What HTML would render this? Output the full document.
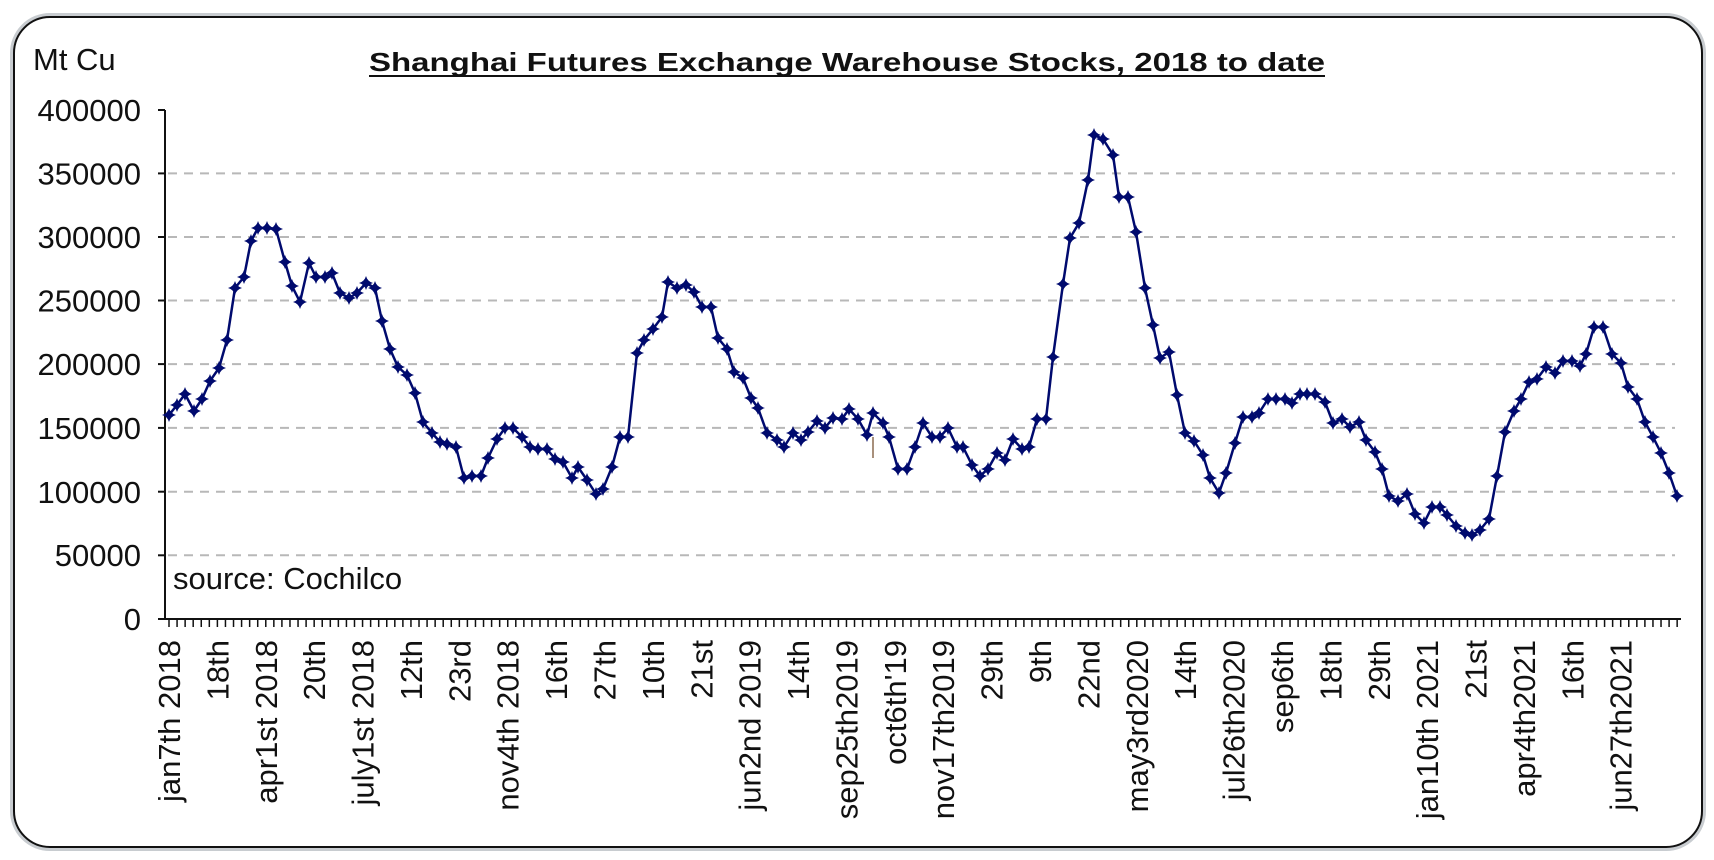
<!DOCTYPE html>
<html><head><meta charset="utf-8"><style>
html,body{margin:0;padding:0;background:#fff;}
svg{display:block;font-family:"Liberation Sans",Arial,sans-serif;}
</style></head><body>
<svg width="1714" height="860" viewBox="0 0 1714 860" xmlns="http://www.w3.org/2000/svg">
<defs>
<marker id="m" viewBox="-8 -8 16 16" markerWidth="16" markerHeight="16" markerUnits="userSpaceOnUse" refX="0" refY="0">
<path d="M0,-7 Q1.5,-1.5 7,0 Q1.5,1.5 0,7 Q-1.5,1.5 -7,0 Q-1.5,-1.5 0,-7Z" fill="#000a6e"/>
</marker>
</defs>
<rect x="12" y="15" width="1692" height="834" rx="38" fill="none" stroke="#c8ccd0" stroke-width="4"/>
<rect x="14" y="17" width="1688" height="830" rx="36" fill="#fff" stroke="#111" stroke-width="2"/>
<text x="33" y="70" font-size="31" fill="#111">Mt Cu</text>
<text x="847" y="71" font-size="26" font-weight="bold" text-anchor="middle" fill="#111" textLength="956" lengthAdjust="spacingAndGlyphs">Shanghai Futures Exchange Warehouse Stocks, 2018 to date</text>
<line x1="369" y1="76" x2="1325" y2="76" stroke="#111" stroke-width="2"/>
<g stroke="#b8b8b8" stroke-width="2" stroke-dasharray="9 7">
<line x1="168" y1="173.4" x2="1675" y2="173.4"/>
<line x1="168" y1="237" x2="1675" y2="237"/>
<line x1="168" y1="300.5" x2="1675" y2="300.5"/>
<line x1="168" y1="364.1" x2="1675" y2="364.1"/>
<line x1="168" y1="427.9" x2="1675" y2="427.9"/>
<line x1="168" y1="491.7" x2="1675" y2="491.7"/>
<line x1="168" y1="555.3" x2="1675" y2="555.3"/>
</g>
<g stroke="#111" stroke-width="2">
<line x1="165" y1="110" x2="165" y2="620"/>
<line x1="158" y1="110" x2="165" y2="110"/>
<line x1="158" y1="173.4" x2="165" y2="173.4"/>
<line x1="158" y1="237" x2="165" y2="237"/>
<line x1="158" y1="300.5" x2="165" y2="300.5"/>
<line x1="158" y1="364.1" x2="165" y2="364.1"/>
<line x1="158" y1="427.9" x2="165" y2="427.9"/>
<line x1="158" y1="491.7" x2="165" y2="491.7"/>
<line x1="158" y1="555.3" x2="165" y2="555.3"/>
<line x1="158" y1="619" x2="1681" y2="619"/>
</g>
<line x1="168.25" y1="623" x2="1681" y2="623" stroke="#111" stroke-width="8" stroke-dasharray="1.5 6.565"/>
<g font-size="31" fill="#111" text-anchor="end">
<text x="141" y="121">400000</text>
<text x="141" y="184.5">350000</text>
<text x="141" y="248">300000</text>
<text x="141" y="311.5">250000</text>
<text x="141" y="375">200000</text>
<text x="141" y="439">150000</text>
<text x="141" y="503">100000</text>
<text x="141" y="566">50000</text>
<text x="141" y="630">0</text>
</g>
<text x="173" y="589" font-size="31" fill="#111">source: Cochilco</text>
<line x1="873" y1="437" x2="873" y2="458" stroke="#8a6a50" stroke-width="1.5"/>
<polyline fill="none" stroke="#000a6e" stroke-width="2.5" marker-start="url(#m)" marker-mid="url(#m)" marker-end="url(#m)" points="169,415 177,405 185,394 194,411 202,399 210,381 219,368 227,340 235,288 244,277 251,241 258,228 267,228 276,229 285,262 292,286 300,302 309,263 316,277 325,277 332,273 340,293 349,298 357,293 366,283 375,288 382,321 390,349 398,367 407,375 415,393 423,422 432,433 440,442 447,444 456,447 464,478 472,476 481,476 488,458 497,439 505,428 513,428 522,437 530,447 538,449 547,449 555,459 563,462 572,478 578,467 587,480 596,494 603,489 612,467 620,437 628,437 637,353 644,340 653,329 662,317 668,282 677,288 686,285 694,292 702,307 711,307 718,338 727,349 734,372 743,378 751,398 758,408 767,433 777,440 784,447 793,433 801,440 808,432 817,421 825,428 833,418 842,419 849,409 858,419 867,435 873,413 883,423 889,437 898,469 907,469 915,447 923,423 932,437 940,437 948,428 957,447 963,447 972,465 980,476 988,469 997,453 1005,460 1013,439 1022,449 1029,447 1037,419 1046,419 1053,357 1063,284 1070,238 1079,223 1088,180 1094,135 1103,139 1113,155 1119,197 1128,197 1136,232 1145,288 1153,325 1160,358 1169,352 1177,395 1185,433 1194,441 1203,455 1210,478 1219,493 1226,473 1235,443 1243,417 1252,417 1259,413 1268,399 1276,399 1285,399 1292,403 1300,394 1307,394 1315,394 1325,402 1333,423 1342,419 1350,427 1359,422 1366,440 1375,452 1382,469 1389,496 1398,501 1407,494 1415,514 1424,523 1432,507 1440,507 1447,515 1456,526 1465,533 1472,535 1480,530 1489,519 1497,476 1505,432 1514,411 1521,399 1529,382 1537,379 1546,367 1555,373 1563,361 1572,361 1580,366 1586,354 1594,327 1603,327 1612,354 1621,363 1628,387 1637,399 1645,422 1653,437 1661,453 1669,473 1677,496"/>
<g font-size="31" fill="#111" text-anchor="end">
<text transform="translate(180,640) rotate(-90)">jan7th 2018</text>
<text transform="translate(228.4,640) rotate(-90)">18th</text>
<text transform="translate(276.8,640) rotate(-90)">apr1st 2018</text>
<text transform="translate(325.2,640) rotate(-90)">20th</text>
<text transform="translate(373.6,640) rotate(-90)">july1st 2018</text>
<text transform="translate(422,640) rotate(-90)">12th</text>
<text transform="translate(470.3,640) rotate(-90)">23rd</text>
<text transform="translate(518.7,640) rotate(-90)">nov4th 2018</text>
<text transform="translate(567.1,640) rotate(-90)">16th</text>
<text transform="translate(615.5,640) rotate(-90)">27th</text>
<text transform="translate(663.9,640) rotate(-90)">10th</text>
<text transform="translate(712.3,640) rotate(-90)">21st</text>
<text transform="translate(760.7,640) rotate(-90)">jun2nd 2019</text>
<text transform="translate(809.1,640) rotate(-90)">14th</text>
<text transform="translate(857.5,640) rotate(-90)">sep25th2019</text>
<text transform="translate(905.9,640) rotate(-90)">oct6th'19</text>
<text transform="translate(954.2,640) rotate(-90)">nov17th2019</text>
<text transform="translate(1002.6,640) rotate(-90)">29th</text>
<text transform="translate(1051,640) rotate(-90)">9th</text>
<text transform="translate(1099.4,640) rotate(-90)">22nd</text>
<text transform="translate(1147.8,640) rotate(-90)">may3rd2020</text>
<text transform="translate(1196.2,640) rotate(-90)">14th</text>
<text transform="translate(1244.6,640) rotate(-90)">jul26th2020</text>
<text transform="translate(1293,640) rotate(-90)">sep6th</text>
<text transform="translate(1341.4,640) rotate(-90)">18th</text>
<text transform="translate(1389.8,640) rotate(-90)">29th</text>
<text transform="translate(1438.1,640) rotate(-90)">jan10th 2021</text>
<text transform="translate(1486.5,640) rotate(-90)">21st</text>
<text transform="translate(1534.9,640) rotate(-90)">apr4th2021</text>
<text transform="translate(1583.3,640) rotate(-90)">16th</text>
<text transform="translate(1631.7,640) rotate(-90)">jun27th2021</text>
</g>
</svg>
</body></html>
